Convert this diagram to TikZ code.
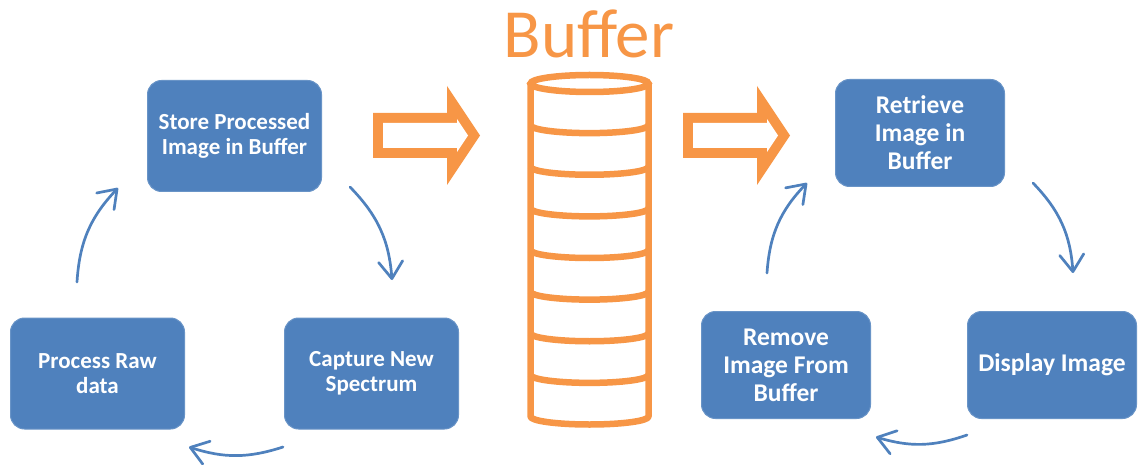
\documentclass[tikz,border=0pt]{standalone}
\usepackage{fontspec}
\setmainfont{Carlito}
\usetikzlibrary{arrows.meta}
\definecolor{boxblue}{HTML}{4F81BD}
\definecolor{lineblue}{HTML}{4F81BD}
\definecolor{borange}{HTML}{F79646}
\begin{document}
\begin{tikzpicture}[x=1pt,y=1pt,
  box/.style={fill=boxblue, draw=boxblue!85!white, line width=1pt, rounded corners=14pt,
    text=white, align=center, inner sep=0pt},
  lbox/.style={box, minimum width=174pt, minimum height=111pt,
    font=\bfseries\fontsize{23}{25}\selectfont},
  rbox/.style={box, minimum width=169pt, minimum height=107pt,
    font=\bfseries\fontsize{25.5}{28}\selectfont},
  cyc/.style={lineblue, line width=2.7pt, line cap=round,
    -{Straight Barb[length=17pt,width=24pt,line cap=round,line join=round]}},
  cylline/.style={borange, line width=6.5pt},
]
\useasboundingbox (0,0) rectangle (1140,-465);

% title
\node (title) [anchor=base, text=borange, font=\fontsize{69}{69}\selectfont, inner sep=0pt] at (589,-58) {Buffer};

% left cycle
\node (store)   [lbox] at (234.5,-136)   {Store Processed\\Image in Buffer};
\node (process) [lbox] at (97.5,-373.5)  {Process Raw\\data};
\node (capture) [lbox] at (371.5,-373.5) {Capture New\\Spectrum};

% right cycle
\node (retrieve) [rbox] at (920,-133)  {Retrieve\\Image in\\Buffer};
\node (remove)   [rbox] at (786,-365)  {Remove\\Image From\\Buffer};
\node (display)  [rbox] at (1052,-365) {Display Image};

% connector end points
\coordinate (a1s) at (350,-187);  \coordinate (a1e) at (392,-280);
\coordinate (a2s) at (283,-447);  \coordinate (a2e) at (189,-447);
\coordinate (a3s) at (77,-282);   \coordinate (a3e) at (118,-188);
\coordinate (b1s) at (1033,-183); \coordinate (b1e) at (1073,-273);
\coordinate (b2s) at (967,-435);  \coordinate (b2e) at (876,-437);
\coordinate (b3s) at (767,-273);  \coordinate (b3e) at (807,-183);

\draw[cyc] (a1s) to[bend left=20] (a1e);
\draw[cyc] (a2s) to[bend left=18] (a2e);
\draw[cyc] (a3s) to[bend left=20] (a3e);
\draw[cyc] (b1s) to[bend left=20] (b1e);
\draw[cyc] (b2s) to[bend left=18] (b2e);
\draw[cyc] (b3s) to[bend left=20] (b3e);

% orange block arrows
\foreach \dx in {0,310}{
  \begin{scope}[shift={(\dx,0)}]
    \fill[borange] (373,-113) -- (447,-113) -- (447,-86) -- (480,-135.5) -- (447,-185)
      -- (447,-158) -- (373,-158) -- cycle;
    \fill[white] (383,-123) -- (457,-123) -- (457,-119) -- (468,-135.5) -- (457,-152)
      -- (457,-148) -- (383,-148) -- cycle;
  \end{scope}
}

% buffer cylinder
\draw[cylline] (589.5,-83.5) ellipse (59 and 8.5);
\draw[cylline, line join=round] (530.5,-83.5) -- (530.5,-416.5) arc (180:360:59 and 8) -- (648.5,-83.5);
\foreach \k in {1,...,7}{
  \draw[cylline] (530.5,{-83.5-\k*41.625}) arc (180:360:59 and 8);
}
\end{tikzpicture}
\end{document}
